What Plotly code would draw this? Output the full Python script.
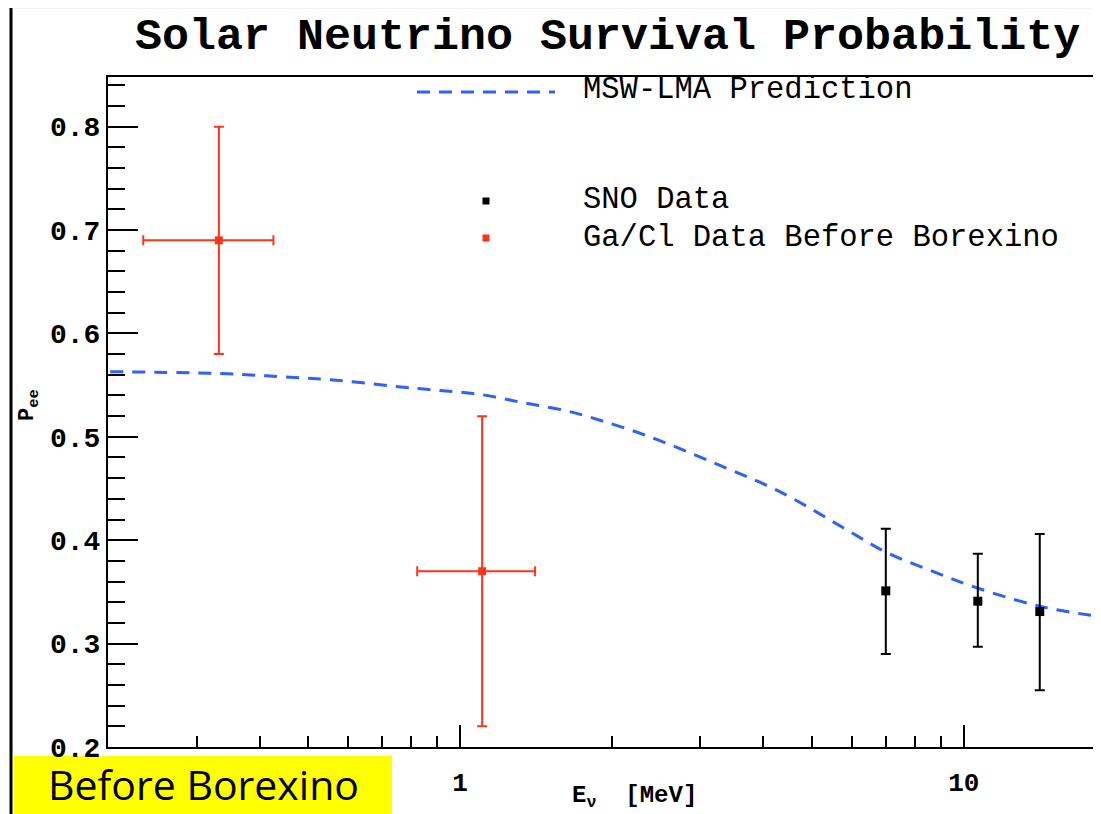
import math
import plotly.graph_objects as go

# ---------------- data ----------------
msw_E = [0.202, 0.345, 0.443, 0.560, 0.736, 0.900, 1.096, 1.334, 1.631, 1.81,
         2.35, 3.18, 4.31, 5.86, 7.03, 8.56, 10.6, 14.2, 18.7]
msw_P = [0.563, 0.561, 0.558, 0.555, 0.549, 0.545, 0.541, 0.533, 0.525, 0.519,
         0.501, 0.475, 0.447, 0.410, 0.388, 0.371, 0.354, 0.336, 0.326]

sno_E = [7.0, 10.66, 14.15]
sno_P = [0.351, 0.341, 0.331]
sno_err_plus = [0.060, 0.046, 0.075]
sno_err_minus = [0.061, 0.044, 0.076]

gacl_E = [0.332, 1.106]
gacl_P = [0.690, 0.370]
gacl_err_plus = [0.110, 0.150]
gacl_err_minus = [0.110, 0.150]
gacl_xerr_plus = [0.094, 0.303]
gacl_xerr_minus = [0.097, 0.284]

y_major_ticks = [0.2, 0.3, 0.4, 0.5, 0.6, 0.7, 0.8]
x_major_ticks = [1, 10]
x_major_labels = ["1", "10"]
x_minor_ticks = [0.3, 0.4, 0.5, 0.6, 0.7, 0.8, 0.9, 2, 3, 4, 5, 6, 7, 8, 9, 20]

title_text = "Solar Neutrino Survival Probability"
legend_labels = ["MSW-LMA Prediction", "SNO Data", "Ga/Cl Data Before Borexino"]

# ---------------- layout helpers ----------------
# The page body has an 8px margin, so the figure is shrunk by it and all
# pixel positions (measured in window coordinates) are shifted by OFF.
OFF = 8
WIN_W, WIN_H = 1101, 814
FIG_W, FIG_H = WIN_W - OFF, WIN_H - OFF
L, R, T, B = 108 - OFF, WIN_W - OFF, 77 - OFF, 747 - OFF
W, H = R - L, B - T


def px_x(px):
    return (px - OFF - L) / W


def px_y(py):
    return (B - (py - OFF)) / H


BLUE = "#3060ff"
RED = "#ff3318"
MONO = "Liberation Mono, DejaVu Sans Mono, monospace"

fig = go.Figure()

fig.add_trace(go.Scatter(
    x=msw_E, y=msw_P, mode="lines",
    line=dict(color=BLUE, width=3, dash="13px,9px", shape="spline"),
    showlegend=False, hoverinfo="skip"))

fig.add_trace(go.Scatter(
    x=gacl_E, y=gacl_P, mode="markers",
    marker=dict(symbol="square", size=8, color=RED),
    error_y=dict(type="data", symmetric=False, array=gacl_err_plus,
                 arrayminus=gacl_err_minus, color=RED, thickness=2, width=5),
    error_x=dict(type="data", symmetric=False, array=gacl_xerr_plus,
                 arrayminus=gacl_xerr_minus, color=RED, thickness=2, width=5),
    showlegend=False))

fig.add_trace(go.Scatter(
    x=sno_E, y=sno_P, mode="markers",
    marker=dict(symbol="square", size=9, color="black"),
    error_y=dict(type="data", symmetric=False, array=sno_err_plus,
                 arrayminus=sno_err_minus, color="black", thickness=2, width=5),
    showlegend=False))

fig.update_layout(
    width=FIG_W, height=FIG_H,
    margin=dict(l=L, r=FIG_W - R, t=T, b=FIG_H - B, autoexpand=False),
    paper_bgcolor="white", plot_bgcolor="white",
    showlegend=False,
    xaxis=dict(
        type="log", range=[math.log10(0.2), math.log10(18.72)],
        showgrid=False, zeroline=False,
        showline=True, linecolor="black", linewidth=2, mirror=True,
        ticks="inside", ticklen=22, tickwidth=2, tickcolor="black",
        tickmode="array", tickvals=x_major_ticks, ticktext=x_major_labels,
        tickfont=dict(family=MONO, size=26, color="black", weight="bold"),
        ticklabelstandoff=11,
        minor=dict(ticks="inside", ticklen=11, tickwidth=2, tickcolor="black",
                   tickmode="array", tickvals=x_minor_ticks, showgrid=False),
    ),
    yaxis=dict(
        range=[0.2, 0.848],
        showgrid=False, zeroline=False,
        showline=True, linecolor="black", linewidth=2,
        ticks="inside", ticklen=30, tickwidth=2, tickcolor="black",
        tickmode="array", tickvals=y_major_ticks,
        ticktext=[f"{v:.1f}" for v in y_major_ticks],
        tickfont=dict(family=MONO, size=28, color="black", weight="bold"),
        minor=dict(ticks="inside", ticklen=17, tickwidth=2, tickcolor="black",
                   dtick=0.02, tick0=0.2, showgrid=False),
    ),
)

shapes = [
    # light textured slide edge (top)
    dict(type="rect", xref="paper", yref="paper", x0=px_x(OFF), x1=px_x(WIN_W),
         y0=px_y(OFF + 1), y1=px_y(OFF), fillcolor="#f4f4f4", line=dict(width=0), layer="below"),
    # slide border line
    dict(type="line", xref="paper", yref="paper", x0=px_x(11), x1=px_x(11),
         y0=px_y(OFF), y1=px_y(WIN_H), line=dict(color="black", width=3)),
    # yellow label box
    dict(type="rect", xref="paper", yref="paper", x0=px_x(14), x1=px_x(392),
         y0=px_y(WIN_H), y1=px_y(756), fillcolor="#ffff00", line=dict(width=0), layer="below"),
    # legend keys
    dict(type="line", xref="paper", yref="paper", x0=px_x(417), x1=px_x(555),
         y0=px_y(92), y1=px_y(92), line=dict(color=BLUE, width=3, dash="13px,9px")),
    dict(type="rect", xref="paper", yref="paper", x0=px_x(482.5), x1=px_x(489.5),
         y0=px_y(204.5), y1=px_y(197.5), fillcolor="black", line=dict(width=0)),
    dict(type="rect", xref="paper", yref="paper", x0=px_x(482.5), x1=px_x(489.5),
         y0=px_y(241.5), y1=px_y(234.5), fillcolor=RED, line=dict(width=0)),
]
fig.update_layout(shapes=shapes)

annotations = [
    dict(text=title_text, x=px_x(607), y=px_y(38), xref="paper", yref="paper",
         xanchor="center", yanchor="middle", showarrow=False,
         font=dict(family=MONO, size=45, color="black", weight="bold")),
    dict(text=legend_labels[0], x=px_x(581), y=px_y(90), xref="paper", yref="paper",
         xanchor="left", yanchor="middle", showarrow=False,
         font=dict(family=MONO, size=30.5, color="black")),
    dict(text=legend_labels[1], x=px_x(581), y=px_y(200), xref="paper", yref="paper",
         xanchor="left", yanchor="middle", showarrow=False,
         font=dict(family=MONO, size=30.5, color="black")),
    dict(text=legend_labels[2], x=px_x(581), y=px_y(238), xref="paper", yref="paper",
         xanchor="left", yanchor="middle", showarrow=False,
         font=dict(family=MONO, size=30.5, color="black")),
    dict(text="E<sub>ν</sub>  [MeV]", x=px_x(634), y=px_y(797), xref="paper", yref="paper",
         xanchor="center", yanchor="middle", showarrow=False,
         font=dict(family=MONO, size=24, color="black", weight="bold")),
    dict(text="P<sub>ee</sub>", x=px_x(29), y=px_y(405), xref="paper", yref="paper",
         xanchor="center", yanchor="middle", showarrow=False, textangle=-90,
         font=dict(family=MONO, size=22, color="black", weight="bold")),
    dict(text="Before Borexino", x=px_x(203), y=px_y(784), xref="paper", yref="paper",
         xanchor="center", yanchor="middle", showarrow=False,
         font=dict(family="Open Sans, Lato, sans-serif", size=41, color="black")),
]
fig.update_layout(annotations=annotations)

fig.write_html("out.html")
